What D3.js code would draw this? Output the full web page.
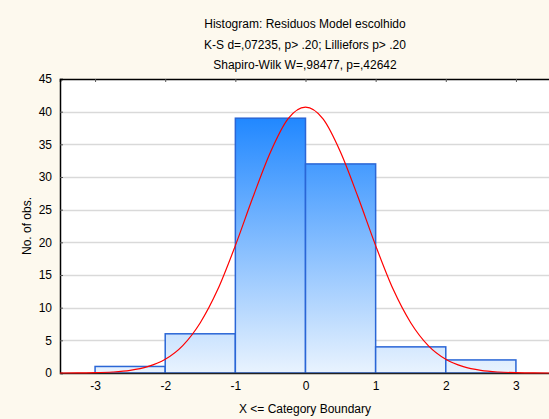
<!DOCTYPE html>
<html>
<head>
<meta charset="utf-8">
<script src="https://cdn.jsdelivr.net/npm/d3@7"></script>
<style>
  body { margin: 0; background: #fdf9ee; }
  svg { display: block; font-family: "Liberation Sans", Arial, sans-serif; }
</style>
</head>
<body>
<script>
// histogram bins (upper boundary) and counts
var binEdges = [-3, -2, -1, 0, 1, 2, 3];
var counts = [1, 6, 39, 32, 4, 2];

// expected normal curve
var curveX = [-3.5, -3.25, -3, -2.75, -2.5, -2.25, -2, -1.75, -1.5, -1.25, -1, -0.75, -0.5, -0.25, 0,
              0.25, 0.5, 0.75, 1, 1.25, 1.5, 1.75, 2, 2.25, 2.5, 2.75, 3, 3.25, 3.5];
var curveY = [0, 0.02, 0.05, 0.15, 0.4, 0.97, 2.1, 4.2, 7.7, 12.8, 19.5, 26.9, 33.8, 38.9, 40.7,
              38.9, 33.8, 26.9, 19.5, 12.8, 7.7, 4.2, 2.1, 0.97, 0.4, 0.15, 0.05, 0.02, 0];

var yTicks = [0, 5, 10, 15, 20, 25, 30, 35, 40, 45];
var xTicks = [-3, -2, -1, 0, 1, 2, 3];
var titleLines = ["Histogram: Residuos Model escolhido",
                  "K-S d=,07235, p> .20; Lilliefors p> .20",
                  "Shapiro-Wilk W=,98477, p=,42642"];

var w = 549, h = 419;
var m = {top: 79, right: -2, bottom: 46, left: 60};
var fs = 12;

var svg = d3.select("body").append("svg")
  .attr("width", w)
  .attr("height", h);

var x = d3.scaleLinear().domain([-3.5, 3.5]).range([m.left, w - m.right]);
var y = d3.scaleLinear().domain([0, 45]).range([h - m.bottom, m.top]);

// gradient for the bars
var grad = svg.append("defs").append("linearGradient")
  .attr("id", "barGrad")
  .attr("gradientUnits", "userSpaceOnUse")
  .attr("x1", 0).attr("x2", 0)
  .attr("y1", y(40)).attr("y2", y(0));
grad.append("stop").attr("offset", "0%").attr("stop-color", "#1c85ff");
grad.append("stop").attr("offset", "100%").attr("stop-color", "#e9f3fe");

// plot area
svg.append("rect")
  .attr("x", m.left).attr("y", m.top)
  .attr("width", w - m.left).attr("height", y(0) - m.top)
  .attr("fill", "#ffffff");

// gridlines
svg.append("g").selectAll("line")
  .data(yTicks.filter(function(d){ return d > 0 && d < 45; }))
  .enter().append("line")
  .attr("x1", m.left).attr("x2", w)
  .attr("y1", function(d){ return Math.round(y(d)) + 0.5; })
  .attr("y2", function(d){ return Math.round(y(d)) + 0.5; })
  .attr("stroke", "#d9d9d9")
  .attr("stroke-width", 1.5);

// bars
svg.append("g").selectAll("rect")
  .data(counts)
  .enter().append("rect")
  .attr("x", function(d, i){ return x(binEdges[i]); })
  .attr("y", function(d){ return y(d); })
  .attr("width", function(d, i){ return x(binEdges[i + 1]) - x(binEdges[i]); })
  .attr("height", function(d){ return y(0) - y(d); })
  .attr("fill", "url(#barGrad)")
  .attr("stroke", "#2a66d6")
  .attr("stroke-width", 1.5);

// axes
var yAxis = d3.axisLeft(y).tickValues(yTicks).tickSize(-3).tickPadding(8);
var gy = svg.append("g")
  .attr("transform", "translate(" + m.left + ",0)")
  .call(yAxis);
gy.select(".domain").attr("stroke", "#000").attr("stroke-width", 1.5);
gy.selectAll(".tick line").attr("stroke", "#555");
gy.selectAll("text").attr("font-size", fs).attr("fill", "#000");

var xAxis = d3.axisBottom(x).tickValues(xTicks).tickSize(0).tickPadding(8)
  .tickFormat(function(d){ return String(d); });
var gx = svg.append("g")
  .attr("transform", "translate(0," + y(0) + ")")
  .call(xAxis);
gx.select(".domain").attr("stroke", "#222").attr("stroke-width", 1.5);
gx.selectAll("text").attr("font-size", fs).attr("fill", "#000");

var xTop = d3.axisTop(x).tickValues(xTicks).tickSize(-3).tickFormat("");
var gt = svg.append("g")
  .attr("transform", "translate(0," + m.top + ")")
  .call(xTop);
gt.select(".domain").attr("stroke", "#000").attr("stroke-width", 1.5);
gt.selectAll(".tick line").attr("stroke", "#555");

// fitted normal curve
var line = d3.line()
  .x(function(d, i){ return x(curveX[i]); })
  .y(function(d){ return y(d); })
  .curve(d3.curveMonotoneX);

svg.append("path")
  .datum(curveY)
  .attr("d", line)
  .attr("fill", "none")
  .attr("stroke", "#ff0000")
  .attr("stroke-width", 1.2);

// titles
svg.append("g").selectAll("text")
  .data(titleLines)
  .enter().append("text")
  .attr("x", 305)
  .attr("y", function(d, i){ return 28 + i * 20.5; })
  .attr("text-anchor", "middle")
  .attr("font-size", fs)
  .text(function(d){ return d; });

svg.append("text")
  .attr("x", 305).attr("y", 413)
  .attr("text-anchor", "middle")
  .attr("font-size", fs)
  .text("X <= Category Boundary");

svg.append("text")
  .attr("transform", "translate(31," + (y(22.5)) + ") rotate(-90)")
  .attr("text-anchor", "middle")
  .attr("font-size", fs)
  .text("No. of obs.");
</script>
</body>
</html>
